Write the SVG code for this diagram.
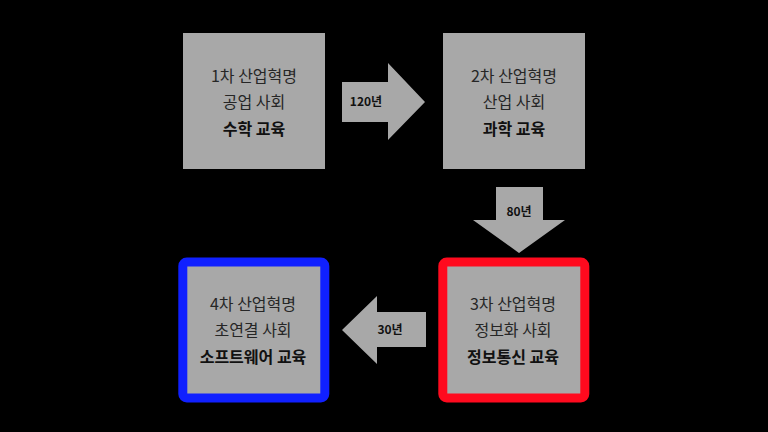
<svg xmlns="http://www.w3.org/2000/svg" width="768" height="432" viewBox="0 0 768 432">
<style>
.box{fill:#a8a8a8}
.arr{fill:#a8a8a8}
text{font-family:"Noto Sans CJK KR","Noto Sans",sans-serif;text-anchor:middle;fill:#262626}
.t{font-size:16px}
.b{font-size:16px;font-weight:bold;fill:#111}
.l{font-size:12px;font-weight:bold;fill:#111}
</style>
<rect width="768" height="432" fill="#000"/>
<g id="n1">
<rect class="box" x="183" y="33" width="142" height="136"/>
<text class="t" x="254" y="82">1차 산업혁명</text>
<text class="t" x="254" y="108">공업 사회</text>
<text class="b" x="254" y="135">수학 교육</text>
</g>
<g id="n2">
<rect class="box" x="443" y="33" width="142" height="136"/>
<text class="t" x="514" y="82">2차 산업혁명</text>
<text class="t" x="514" y="108">산업 사회</text>
<text class="b" x="514" y="135">과학 교육</text>
</g>
<g id="n3">
<rect class="box" x="442.8" y="262" width="142" height="136" stroke="#ff0a1e" stroke-width="9" rx="4"/>
<text class="t" x="513" y="310">3차 산업혁명</text>
<text class="t" x="513" y="336">정보화 사회</text>
<text class="b" x="513" y="363">정보통신 교육</text>
</g>
<g id="n4">
<rect class="box" x="182.8" y="262" width="142" height="136" stroke="#1020ff" stroke-width="9" rx="4"/>
<text class="t" x="253" y="310">4차 산업혁명</text>
<text class="t" x="253" y="336">초연결 사회</text>
<text class="b" x="253" y="363">소프트웨어 교육</text>
</g>
<g id="connectors">
<polygon class="arr" points="342,82 388,82 388,63 425,102 388,140 388,122 342,122"/>
<text class="l" x="366" y="106">120년</text>
<polygon class="arr" points="496,187 543,187 543,220 565,220 519,253 473,220 496,220"/>
<text class="l" x="519" y="216">80년</text>
<polygon class="arr" points="426,312 377,312 377,296 342,330 377,364 377,347 426,347"/>
<text class="l" x="390" y="334">30년</text>
</g>
</svg>
